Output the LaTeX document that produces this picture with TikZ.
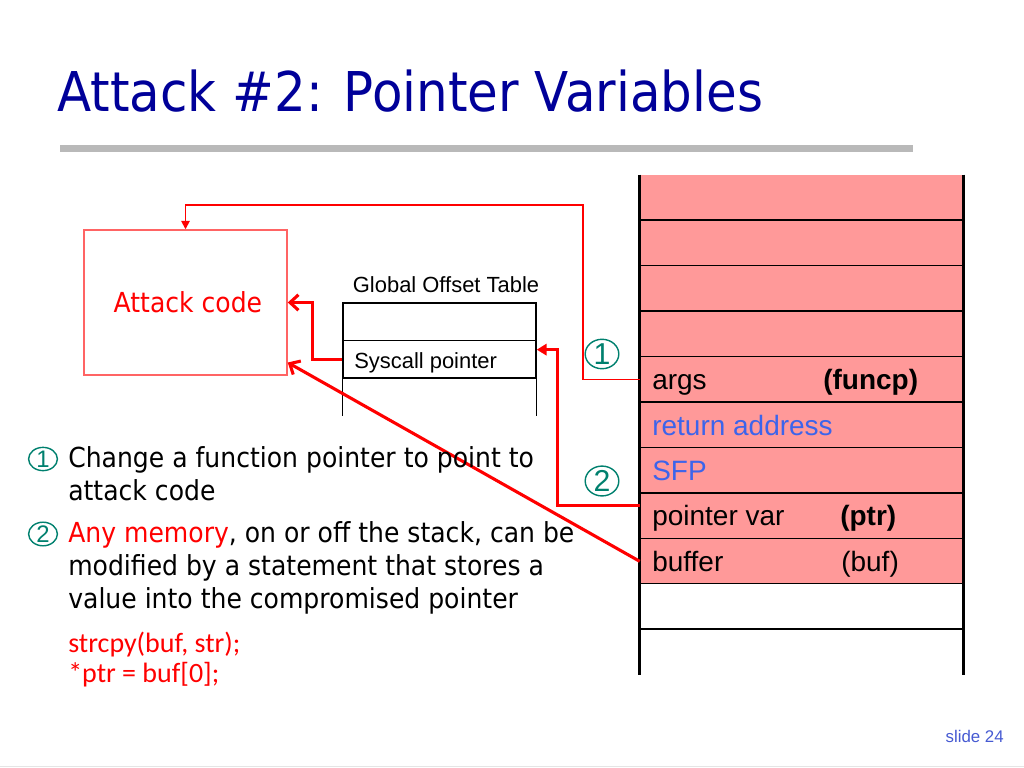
\documentclass[tikz,border=0pt]{standalone}
\usepackage{fontspec}
\setmainfont{DejaVu Sans}[FakeStretch=0.91]
\newfontfamily\arialfont{Liberation Sans}
\newfontfamily\calibrifont{Carlito}
\usetikzlibrary{arrows.meta,shapes.geometric}
\definecolor{titleblue}{RGB}{0,0,153}
\definecolor{stackpink}{RGB}{255,153,153}
\definecolor{regblue}{RGB}{60,100,235}
\definecolor{numteal}{RGB}{0,128,110}
\definecolor{boxred}{RGB}{255,100,100}
\definecolor{slideblue}{RGB}{70,90,210}

\begin{document}
\begin{tikzpicture}[x=0.025cm,y=-0.025cm,
  cell/.style={inner sep=0pt, minimum width=8.075cm, minimum height=1.136cm},
  gotrow/.style={inner sep=0pt, minimum width=4.825cm, minimum height=0.9375cm},
  stacktext/.style={anchor=base west, inner sep=0pt, font=\arialfont\fontsize{19.9}{24}\selectfont},
  bodytext/.style={anchor=base west, inner sep=0pt, font=\fontsize{19.6}{24}\selectfont},
  codetext/.style={anchor=base west, inner sep=0pt, text=red, font=\calibrifont\fontsize{19.9}{24}\selectfont},
  numring/.style={ellipse, draw=numteal, line width=1pt, inner sep=0pt, text=numteal, minimum width=0.72cm, minimum height=0.57cm, font=\arialfont\fontsize{17}{18}\selectfont},
  bignum/.style={numring, minimum width=0.84cm, minimum height=0.7cm, font=\arialfont\fontsize{21.5}{22}\selectfont},
  thinptr/.style={draw=red, line width=1.2pt, -{Triangle[length=6pt,width=6pt]}},
  thickptr/.style={draw=red, line width=2.2pt, -{Straight Barb[length=6pt,width=11pt]}},
]
\useasboundingbox (0,0) rectangle (1024,768);

\node[anchor=base west, inner sep=0pt, text=titleblue, font=\fontsize{39}{44}\selectfont] (title) at (57,112) {Attack \#2: Pointer Variables};
\fill[gray!55] (60,145) rectangle (913,152);
\draw[gray!20, line width=0.5pt] (0,766) -- (1024,766);

\foreach \i in {0,...,8}
  \node[cell, fill=stackpink] (S_\i) at (801.5,{197.7+45.45*\i}) {};
\foreach \i in {9,10}
  \node[cell] (S_\i) at (801.5,{197.7+45.45*\i}) {};
\foreach \i in {1,...,10}
  \draw[line width=1pt] (S_\i.north west) -- (S_\i.north east);
\draw[line width=2.4pt] (S_0.north west) -- (S_10.south west);
\draw[line width=2.4pt] (S_0.north east) -- (S_10.south east);

\node[stacktext] (args) at (652,389.5) {args};
\node[stacktext] (funcp) at (823,389.5) {\bfseries(funcp)};
\node[stacktext, text=regblue] (ret) at (652,435) {return address};
\node[stacktext, text=regblue] (sfp) at (652,480.4) {SFP};
\node[stacktext] (ptrvar) at (652,525.9) {pointer var};
\node[stacktext] (ptr) at (840,525.9) {\bfseries(ptr)};
\node[stacktext] (bufname) at (652,571.3) {buffer};
\node[stacktext] (buf) at (841,571.3) {(buf)};

\node[gotrow, draw, line width=1pt] (T_1) at (439.5,321.75) {};
\node[gotrow, draw, line width=1pt] (T_2) at (439.5,359.25) {};
\node[gotrow] (T_3) at (439.5,396.75) {};
\draw[line width=1pt] (T_3.north west) -- (T_3.south west);
\draw[line width=1pt] (T_3.north east) -- (T_3.south east);
\node[anchor=base, inner sep=0pt, font=\arialfont\fontsize{15.6}{18}\selectfont] (got) at (446,292) {Global Offset Table};
\node[anchor=base west, inner sep=0pt, font=\arialfont\fontsize{15.6}{18}\selectfont] (sys) at (354,368) {Syscall pointer};

\node[draw=boxred, line width=1pt, minimum width=5.075cm, minimum height=3.625cm, text=red, font=\fontsize{19.6}{24}\selectfont] (A) at (185.5,302.5) {\hspace*{0.12cm}Attack code};

\coordinate (k_1) at (583,205);
\draw[thinptr] (S_4.west) -| (k_1) -| (A.north);
\draw[thickptr] (T_2.west) -- ++(-30,0) |- (A.east);
\draw[draw=red, line width=2.2pt, -{Triangle[length=7pt,width=8pt]}] ([yshift=0.27cm]S_7.west) -- ++(-82,0) |- ([yshift=0.24cm]T_2.east);
\draw[thickptr] (S_8.west) -- ([yshift=0.33cm]A.south east);

\node[bignum] (n_1) at (602,354) {1};
\node[bignum] (n_2) at (602,481) {2};

\node[numring] (c_1) at (43,459) {1};
\node[bodytext] (l_1) at (68,467) {Change a function pointer to point to};
\node[bodytext] (l_2) at (68,500) {attack code};
\node[numring] (c_2) at (43,534) {2};
\node[bodytext] (l_3) at (68,542) {\textcolor{red}{Any memory}, on or off the stack, can be};
\node[bodytext] (l_4) at (68,575) {modified by a statement that stores a};
\node[bodytext] (l_5) at (68,608) {value into the compromised pointer};
\node[codetext] (code_1) at (68,652) {strcpy(buf, str);};
\node[codetext] (code_2) at (68,682) {*ptr = buf[0];};

\node[anchor=base east, inner sep=0pt, text=slideblue, font=\arialfont\fontsize{12}{14}\selectfont] (slide) at (1004,742) {slide 24};
\end{tikzpicture}
\end{document}
